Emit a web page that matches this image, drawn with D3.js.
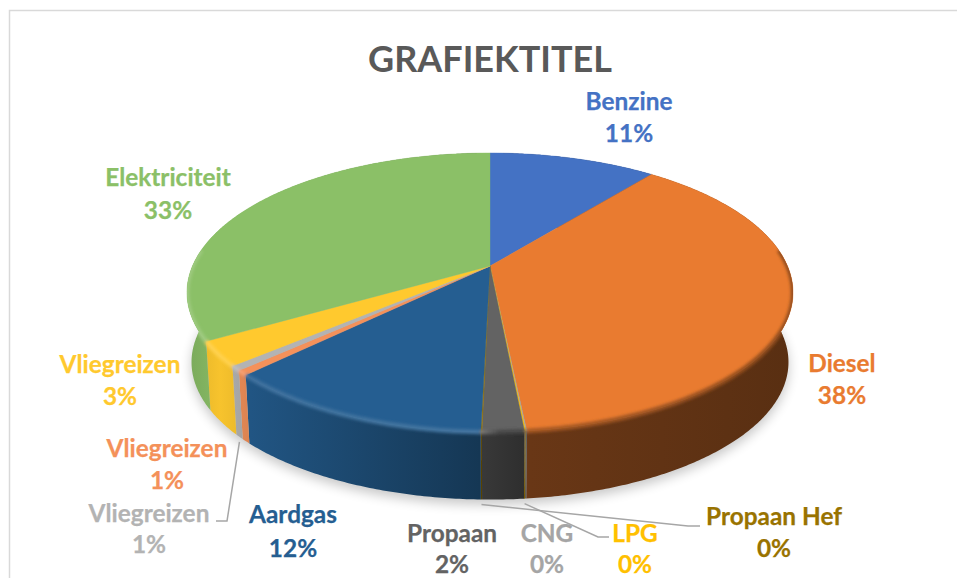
<!DOCTYPE html>
<html>
<head>
<meta charset="utf-8">
<script src="https://cdn.jsdelivr.net/npm/d3@7"></script>
<style>
    html, body { margin: 0; padding: 0; background: #fff; overflow: hidden; }
    text { font-family: Lato, "Open Sans", sans-serif; font-weight: 700; text-anchor: middle; }
</style>
</head>
<body>
<div id="chart"></div>
<script>
const categories = ['Benzine', 'Diesel', 'CNG', 'LPG', 'Propaan', 'Propaan Hef', 'Aardgas', 'Vliegreizen', 'Vliegreizen', 'Vliegreizen', 'Elektriciteit'];
const shares = [10.7, 37.7, 0.05, 0.05, 1.85, 0.05, 12.2, 0.55, 0.55, 2.85, 33.45];
const colors = ['#4472C4', '#E97B30', '#A5A5A5', '#FFC000', '#636363', '#997300', '#255E91', '#F4915A', '#B3B3B3', '#FFC92E', '#8BC067'];

// label centres, [x, baseline of the name, baseline of the percentage]
const labelPos = [[629, 110, 142], [842, 372, 404], [547, 542, 573], [635, 542, 573], [452, 542, 573], [774, 525, 557],
    [293, 523, 557], [167, 457, 489], [149, 522, 553], [120, 373, 405], [168, 186, 219]];
// leader lines: slice index, then knee and end of the line
const leaders = [
    { slice: 3, knee: [598, 537], end: [609, 537] },
    { slice: 5, knee: [688, 526], end: [700, 526] },
    { slice: 8, knee: [227, 521], end: [216, 521] }
];

const width = 957, height = 578;
const pie3d = { cx: 490, cy: 266, a: 297.5, b: 134.5, k: 0.19, depth: 70, shrink: 0.015 };

// perspective view of the disc: h = 0 is the top face, h = 1 the bottom one
function project(angle, h) {
    const u = Math.sin(angle), v = -Math.cos(angle);
    const w = (1 - pie3d.k * v) / (1 - pie3d.shrink * h);
    return [pie3d.cx + pie3d.a * u / w, pie3d.cy + pie3d.depth * h + pie3d.b * v / w];
}

function arcAngles(a0, a1) {
    const n = Math.max(2, Math.ceil((a1 - a0) / 0.01));
    return d3.range(n + 1).map(i => a0 + (a1 - a0) * i / n);
}

function shade(color, f) {
    return d3.interpolateRgb(color, f < 1 ? '#000' : '#fff')(Math.abs(1 - f));
}

const svg = d3.select('#chart').append('svg')
    .attr('width', width)
    .attr('height', height);
const defs = svg.append('defs');

defs.append('filter').attr('id', 'shadowBlur')
    .attr('x', '-10%').attr('y', '-10%').attr('width', '120%').attr('height', '120%')
    .append('feGaussianBlur').attr('stdDeviation', 6);
defs.append('filter').attr('id', 'rimBlur').attr('filterUnits', 'userSpaceOnUse')
    .attr('x', 0).attr('y', 0).attr('width', width).attr('height', height)
    .append('feGaussianBlur').attr('stdDeviation', 1.8);

// light falls in from the left, the wall gets darker to the right
const wallStops = [[187, 0.88], [220, 0.97], [250, 0.9], [480, 0.58], [530, 0.45], [793, 0.38]];
const rimStops = [[187, 1.18], [250, 1.12], [480, 1.14], [500, 0.72], [793, 0.62]];
const gradX = d3.scaleLinear().domain([187, 793]).range([0, 100]);

function addGradient(id, color, stops) {
    const g = defs.append('linearGradient').attr('id', id)
        .attr('gradientUnits', 'userSpaceOnUse')
        .attr('x1', 187).attr('x2', 793).attr('y1', 0).attr('y2', 0);
    stops.forEach(s => {
        g.append('stop').attr('offset', gradX(s[0]) + '%').attr('stop-color', shade(color, s[1]));
    });
}
colors.forEach((c, i) => {
    addGradient('wall' + i, c, wallStops);
    addGradient('rim' + i, c, rimStops);
});

// chart frame, runs off the page on the right and at the bottom
svg.append('rect')
    .attr('x', 9.5).attr('y', 10.5)
    .attr('width', width + 20).attr('height', height + 20)
    .attr('fill', '#fff').attr('stroke', '#d9d9d9').attr('stroke-width', 1.5);

svg.append('text')
    .attr('x', 490).attr('y', 72)
    .attr('font-size', 36)
    .attr('fill', '#595959')
    .text('GRAFIEKTITEL');

const slices = d3.pie().sort(null)(shares);
const line = d3.line();

function wallPath(d) {
    const as = arcAngles(d.startAngle, d.endAngle);
    return line(as.map(a => project(a, 0)).concat(as.slice().reverse().map(a => project(a, 1)))) + 'Z';
}
function topPath(d) {
    return line([[pie3d.cx, pie3d.cy]].concat(arcAngles(d.startAngle, d.endAngle).map(a => project(a, 0)))) + 'Z';
}

// the bevel stays inside the pie
const pieClip = defs.append('clipPath').attr('id', 'pieClip');
slices.forEach(d => {
    pieClip.append('path').attr('d', wallPath(d));
    pieClip.append('path').attr('d', topPath(d));
});

// drop shadow
svg.append('path')
    .attr('d', line(arcAngles(0, 2 * Math.PI).map(a => project(a, 1))) + 'Z')
    .attr('transform', 'translate(0,5)')
    .attr('fill', '#000').attr('opacity', 0.22)
    .attr('filter', 'url(#shadowBlur)');

// side walls
svg.append('g').selectAll('path')
    .data(slices)
    .join('path')
    .attr('d', wallPath)
    .attr('fill', (d, i) => `url(#wall${i})`);

// top face
svg.append('g').selectAll('path')
    .data(slices)
    .join('path')
    .attr('d', topPath)
    .attr('fill', (d, i) => colors[i])
    .attr('stroke', (d, i) => colors[i])
    .attr('stroke-width', 0.4);

// soft bevel along the front edge
const rimFrom = Math.PI / 2 - 0.12, rimTo = 3 * Math.PI / 2 + 0.12;
svg.append('g').attr('clip-path', 'url(#pieClip)')
    .append('g').attr('filter', 'url(#rimBlur)').selectAll('path')
    .data(slices.filter(d => d.endAngle > rimFrom && d.startAngle < rimTo))
    .join('path')
    .attr('d', d => line(arcAngles(Math.max(d.startAngle, rimFrom), Math.min(d.endAngle, rimTo)).map(a => project(a, 0))))
    .attr('fill', 'none')
    .attr('stroke', d => `url(#rim${d.index})`)
    .attr('stroke-width', 4.5);

// leader lines
svg.append('g').selectAll('path')
    .data(leaders)
    .join('path')
    .attr('d', d => {
        const s = slices[d.slice];
        const start = project((s.startAngle + s.endAngle) / 2, 1);
        return line([[start[0], start[1] + 5], d.knee, d.end]);
    })
    .attr('fill', 'none')
    .attr('stroke', '#a6a6a6')
    .attr('stroke-width', 1.5);

// data labels
const labels = svg.append('g').selectAll('g')
    .data(slices)
    .join('g')
    .attr('font-size', 24.4)
    .attr('fill', (d, i) => colors[i])
    .attr('stroke', (d, i) => colors[i])
    .attr('stroke-width', 0.25);
labels.append('text')
    .attr('x', (d, i) => labelPos[i][0])
    .attr('y', (d, i) => labelPos[i][1])
    .text((d, i) => categories[i]);
labels.append('text')
    .attr('x', (d, i) => labelPos[i][0])
    .attr('y', (d, i) => labelPos[i][2])
    .text((d, i) => Math.round(shares[i]) + '%');
</script>
</body>
</html>
